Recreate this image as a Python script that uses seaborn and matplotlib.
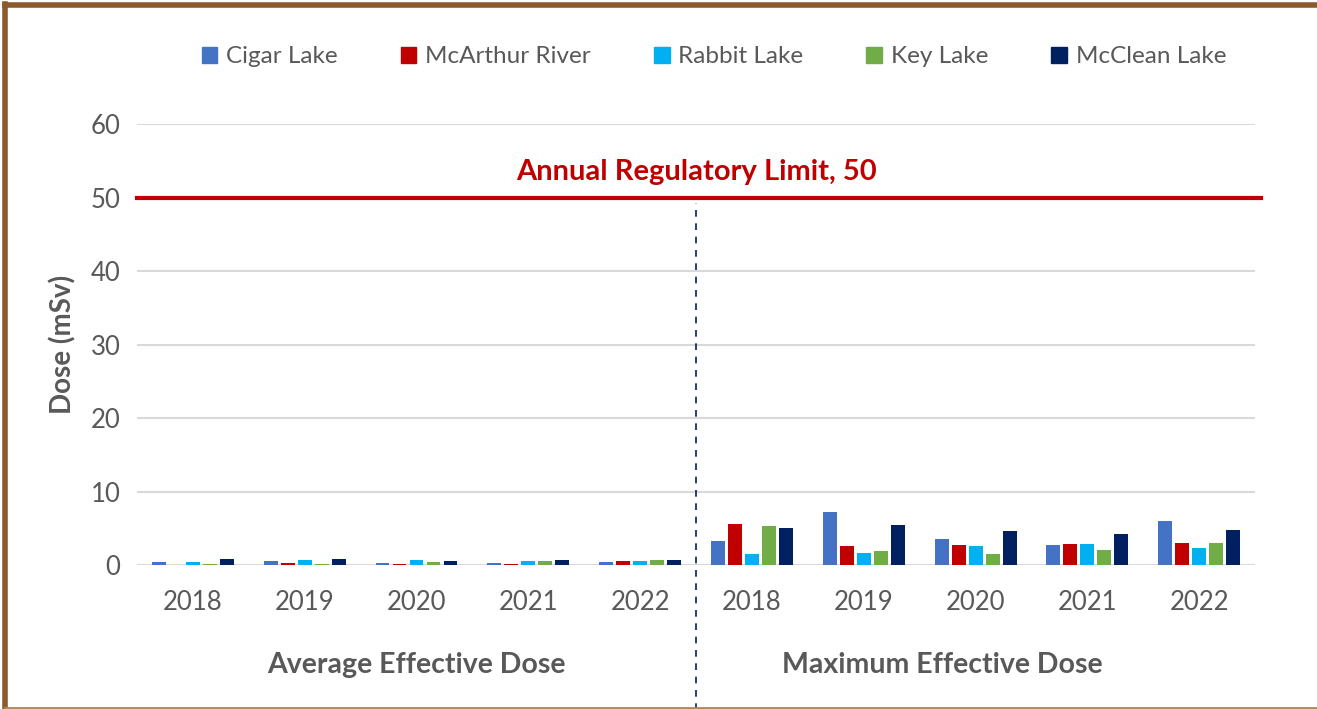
import matplotlib
matplotlib.use("Agg")
import matplotlib.pyplot as plt
import numpy as np
import pandas as pd
import seaborn as sns
from matplotlib.lines import Line2D

# data (mSv)
years = ["2018", "2019", "2020", "2021", "2022"]
lakes = ["Cigar Lake", "McArthur River", "Rabbit Lake", "Key Lake", "McClean Lake"]
colors = ["#4472C4", "#C00000", "#00B0F0", "#70AD47", "#002060"]

avg_cigar = [0.45, 0.55, 0.35, 0.30, 0.40]
avg_mcarthur = [0.05, 0.30, 0.20, 0.20, 0.55]
avg_rabbit = [0.40, 0.70, 0.70, 0.55, 0.60]
avg_key = [0.15, 0.20, 0.40, 0.50, 0.65]
avg_mcclean = [0.80, 0.85, 0.60, 0.70, 0.70]

max_cigar = [3.3, 7.2, 3.6, 2.7, 5.95]
max_mcarthur = [5.6, 2.6, 2.7, 2.85, 3.0]
max_rabbit = [1.45, 1.6, 2.6, 2.85, 2.35]
max_key = [5.3, 1.9, 1.5, 2.0, 3.0]
max_mcclean = [5.0, 5.4, 4.6, 4.2, 4.75]

limit = 50

avg_series = [avg_cigar, avg_mcarthur, avg_rabbit, avg_key, avg_mcclean]
max_series = [max_cigar, max_mcarthur, max_rabbit, max_key, max_mcclean]

rows = []
for prefix, series in [("avg", avg_series), ("max", max_series)]:
    for lake, vals in zip(lakes, series):
        for yr, v in zip(years, vals):
            rows.append({"group": f"{prefix}-{yr}", "lake": lake, "dose": v})
df = pd.DataFrame(rows)
order = [f"avg-{y}" for y in years] + [f"max-{y}" for y in years]

text_gray = "#595959"
plt.rcParams["font.family"] = ["Lato", "DejaVu Sans"]

fig = plt.figure(figsize=(13.17, 7.09), dpi=100)
ax = fig.add_axes([0.104, 0.203, 0.849, 0.622])

sns.barplot(data=df, x="group", y="dose", hue="lake", order=order,
            hue_order=lakes, palette=colors, width=0.76, gap=0.18,
            saturation=1, ax=ax, legend=False)

ax.grid(axis="y", color="#D9D9D9", linewidth=1.5)
ax.set_axisbelow(True)
for s in ax.spines.values():
    s.set_visible(False)

ax.set_xticks(range(10))
ax.set_xticklabels(years * 2)
ax.tick_params(axis="x", length=0, pad=18, labelsize=18.5, labelcolor=text_gray)
ax.tick_params(axis="y", length=0, pad=12, labelsize=18.5, labelcolor=text_gray)
ax.set_xlabel("")
ax.set_ylabel("Dose (mSv)", fontsize=20, fontweight="bold", color=text_gray, labelpad=10)

# regulatory limit
ax.axhline(limit, xmin=0, xmax=1.005, color="#C00000", linewidth=3, clip_on=False)
ax.text(4.5, limit + 1.7, f"Annual Regulatory Limit, {limit}", ha="center", va="bottom",
        fontsize=21, fontweight="bold", color="#C00000")

# separator between average and maximum
ax.vlines(4.5, -20, limit - 0.8, colors="#002060", linestyles=(0, (4, 4)),
          linewidth=1.2, clip_on=False)

ax.text(2, -0.227, "Average Effective Dose", transform=ax.get_xaxis_transform(),
        ha="center", va="center", fontsize=20.5, fontweight="bold", color=text_gray)
ax.text(6.7, -0.227, "Maximum Effective Dose", transform=ax.get_xaxis_transform(),
        ha="center", va="center", fontsize=20.5, fontweight="bold", color=text_gray)

ax.set_xlim(-0.5, 9.5)
ax.set_ylim(0, 60)
ax.set_yticks(range(0, 61, 10))

handles = [plt.Rectangle((0, 0), 1, 1, color=c) for c in colors]
fig.legend(handles, lakes, loc="center", bbox_to_anchor=(0.542, 0.92), ncol=5,
           frameon=False, fontsize=17.5, labelcolor=text_gray, handlelength=0.65,
           handleheight=0.65, handletextpad=0.35, columnspacing=2.6)

# brown frame
fig.add_artist(Line2D([0.004, 0.004], [0, 0.995], color="#8B5A2B", linewidth=4,
                      transform=fig.transFigure))
fig.add_artist(Line2D([0.004, 1], [0.993, 0.993], color="#8B5A2B", linewidth=4,
                      transform=fig.transFigure))
fig.add_artist(Line2D([0.004, 1], [0.002, 0.002], color="#B08660", linewidth=2,
                      transform=fig.transFigure))

fig.savefig("out.png", dpi=100)
